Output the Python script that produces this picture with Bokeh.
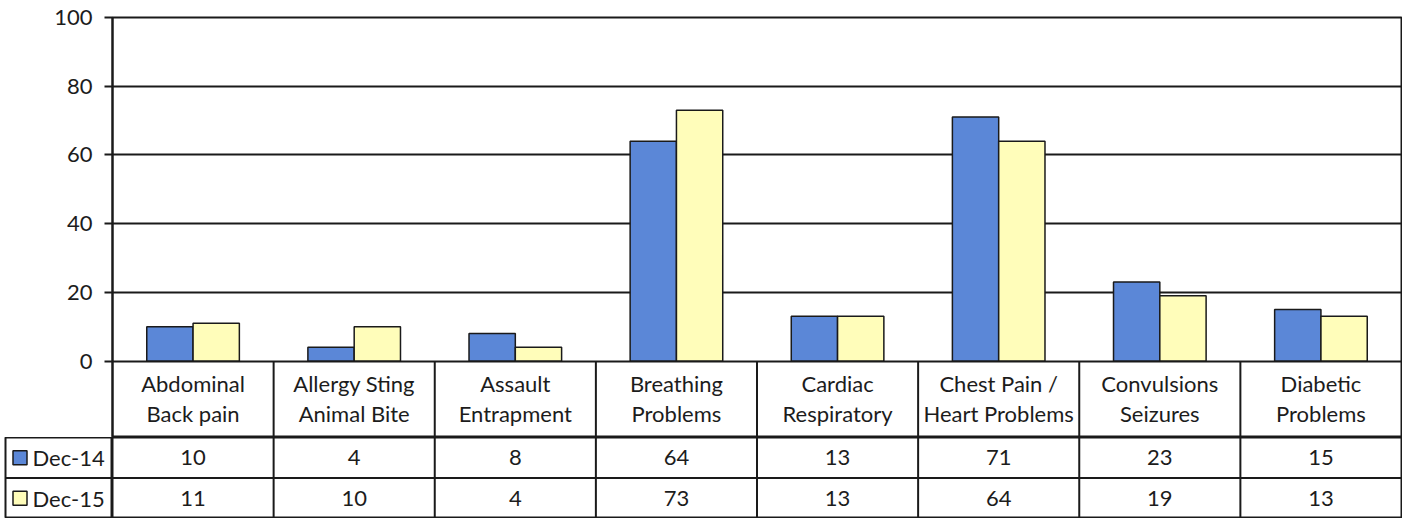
from bokeh.plotting import figure
from bokeh.layouts import column, row
from bokeh.models import Range1d, FixedTicker
from bokeh.core.properties import value
from bokeh.embed import file_html
from bokeh.resources import INLINE

# ---------------- data ----------------
categories = ["Abdominal\nBack pain", "Allergy Sting\nAnimal Bite", "Assault\nEntrapment",
              "Breathing\nProblems", "Cardiac\nRespiratory", "Chest Pain /\nHeart Problems",
              "Convulsions\nSeizures", "Diabetic\nProblems"]
series_names = ["Dec-14", "Dec-15"]
dec14 = [10, 4, 8, 64, 13, 71, 23, 15]
dec15 = [11, 10, 4, 73, 13, 64, 19, 13]
y_ticks = [0, 20, 40, 60, 80, 100]
colors = ["#5B87D7", "#FFFDBA"]

# ---------------- styles / geometry ----------------
FONT = "Lato"
TEXT = "#1c1c1c"
LINE = "#1a1a1a"
FS = "22px"
n = len(categories)
PX_PER_UNIT = 3.435          # pixels per value unit
COL_PX = 161.125             # pixels per category
ZERO_PX = 360.5              # screen y of value 0
def ydat(py):
    return -(py - ZERO_PX) / PX_PER_UNIT

y_header = ydat(437)
bw = 46.3 / COL_PX
centers = [i + 0.5 for i in range(n)]
line1 = [c.split("\n")[0] for c in categories]
line2 = [c.split("\n")[1] for c in categories]

def base(**kw):
    f = figure(output_backend="svg", toolbar_location=None, x_axis_location=None,
               background_fill_color="white", border_fill_color="white", **kw)
    f.outline_line_color = LINE
    f.outline_line_width = 2
    return f

# ---------------- chart + header row ----------------
p = base(width=1402, height=437, x_range=Range1d(0, n), y_range=Range1d(y_header, 100),
         min_border_left=112, min_border_right=1, min_border_top=17, min_border_bottom=0)
ticker = FixedTicker(ticks=y_ticks)
ax = p.yaxis[0]
ax.ticker = ticker
ax.axis_line_color = LINE
ax.axis_line_width = 2
ax.major_tick_line_color = LINE
ax.major_tick_line_width = 2
ax.major_tick_out = 8
ax.major_tick_in = 0
ax.minor_tick_out = 0
ax.minor_tick_in = 0
ax.major_label_standoff = 12
ax.major_label_text_font = FONT
ax.major_label_text_font_size = FS
ax.major_label_text_color = TEXT
p.xgrid.grid_line_color = None
p.ygrid.ticker = ticker
p.ygrid.grid_line_color = LINE
p.ygrid.grid_line_width = 2

p.vbar(x=[c - bw / 2 for c in centers], top=dec14, bottom=0, width=bw,
       fill_color=colors[0], line_color=LINE, line_width=1.5)
p.vbar(x=[c + bw / 2 for c in centers], top=dec15, bottom=0, width=bw,
       fill_color=colors[1], line_color=LINE, line_width=1.5)
p.segment(x0=list(range(1, n)), y0=y_header, x1=list(range(1, n)), y1=0,
          line_color=LINE, line_width=2)
p.text(x=centers, y=ydat(383), text=line1, text_align="center", text_baseline="middle",
       text_font=value(FONT), text_font_size=FS, text_color=TEXT)
p.text(x=centers, y=ydat(413), text=line2, text_align="center", text_baseline="middle",
       text_font=value(FONT), text_font_size=FS, text_color=TEXT)

# ---------------- legend column of the data table ----------------
leg = base(width=112, height=81, x_range=Range1d(0, 107), y_range=Range1d(0, 2),
           y_axis_location=None, min_border_left=5, min_border_right=0,
           min_border_top=0, min_border_bottom=0)
leg.grid.grid_line_color = None
row_y = [1.5, 0.5]
leg.segment(x0=[0], y0=[1], x1=[107], y1=[1], line_color=LINE, line_width=2)
leg.rect(x=[14.5, 14.5], y=row_y, width=14, height=14, width_units="screen",
         height_units="screen", fill_color=colors, line_color=LINE, line_width=1.5)
leg.text(x=[27, 27], y=row_y, text=series_names, text_align="left", text_baseline="middle",
         text_font=value(FONT), text_font_size=FS, text_color=TEXT)

# ---------------- value rows of the data table ----------------
tab = base(width=1290, height=81, x_range=Range1d(0, n), y_range=Range1d(0, 2),
           y_axis_location=None, min_border_left=0, min_border_right=1,
           min_border_top=0, min_border_bottom=0)
tab.grid.grid_line_color = None
tab.segment(x0=list(range(1, n)), y0=0, x1=list(range(1, n)), y1=2,
            line_color=LINE, line_width=2)
tab.segment(x0=[0], y0=[1], x1=[n], y1=[1], line_color=LINE, line_width=2)
for vals, ry in zip([dec14, dec15], row_y):
    tab.text(x=centers, y=ry, text=[str(v) for v in vals], text_align="center",
             text_baseline="middle", text_font=value(FONT), text_font_size=FS,
             text_color=TEXT)

layout = column(p, row(leg, tab, spacing=0), spacing=0)
open("out.html", "w").write(file_html(layout, INLINE))
